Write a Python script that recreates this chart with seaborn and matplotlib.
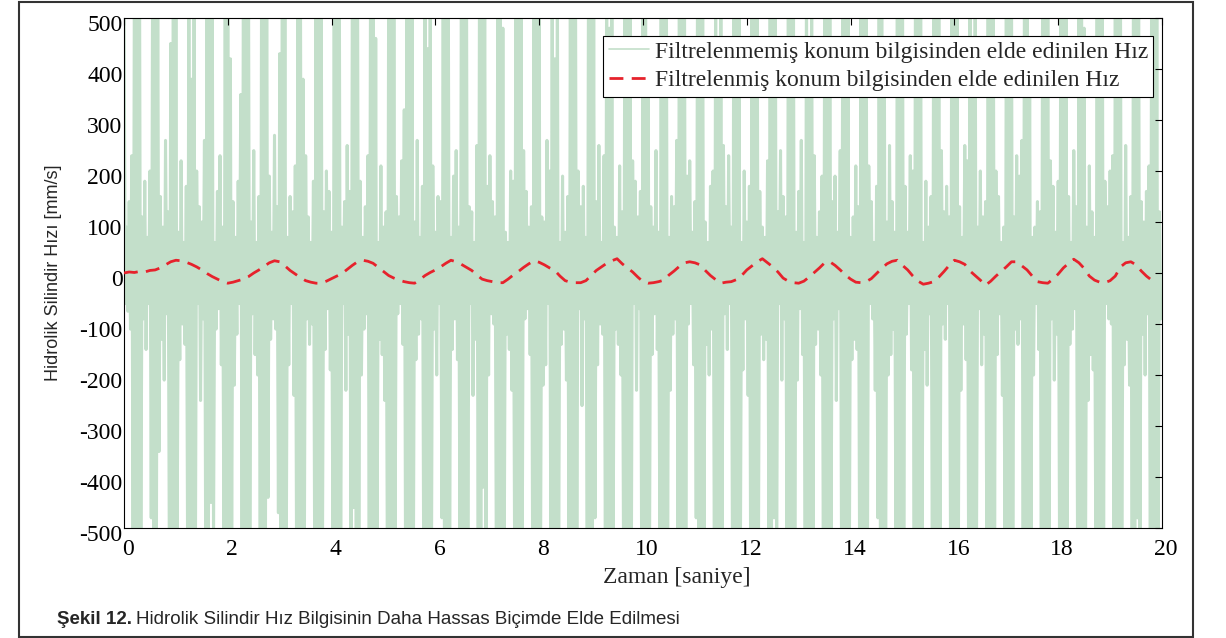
import numpy as np
import pandas as pd
import matplotlib
matplotlib.use("Agg")
import matplotlib.pyplot as plt
import seaborn as sns
from matplotlib.transforms import ScaledTranslation
from matplotlib.patches import Rectangle

# ---------------- data ----------------
raw_dt = 0.025  # sampling step of the unfiltered signal [s]
raw_speed = [
    520, -60, 90, -75, 140, -110, 230, -560, 600, -520, 620, -560, 580, -540,
    110, -90, 180, -150, 70, -60, 200, -480, 560, -600, 540, -520, 600, -350,
    150, -130, 90, -210, 260, -80, 120, -600, 450, -560, 620, -600, 520, -500,
    80, -170, 220, -100, 60, -140, 170, -540, 600, -520, 380, -580, 560, -600,
    200, -60, 130, -250, 100, -90, 260, -600, 560, -600, 600, -450, 600, -520,
    60, -110, 160, -70, 230, -180, 90, -520, 620, -560, 520, -600, 420, -540,
    140, -220, 70, -120, 180, -60, 350, -580, 600, -520, 600, -600, 560, -500,
    100, -80, 240, -160, 60, -200, 150, -600, 540, -580, 600, -560, 620, -440,
    190, -130, 80, -90, 270, -110, 130, -470, 430, -600, 560, -540, 600, -600,
    70, -180, 150, -60, 120, -240, 210, -560, 600, -520, 580, -600, 380, -560,
    230, -90, 110, -140, 60, -100, 180, -600, 620, -600, 560, -500, 600, -520,
    120, -150, 200, -70, 160, -190, 80, -540, 560, -580, 600, -560, 540, -600,
    90, -60, 140, -230, 250, -120, 160, -600, 600, -460, 520, -600, 600, -520,
    180, -200, 70, -110, 130, -80, 230, -520, 580, -600, 600, -540, 460, -580,
    60, -130, 210, -160, 90, -250, 120, -600, 600, -560, 540, -600, 600, -500,
    150, -80, 110, -60, 220, -140, 320, -580, 520, -600, 600, -520, 580, -600,
    100, -170, 260, -120, 70, -90, 170, -600, 600, -540, 440, -600, 600, -560,
    210, -110, 80, -200, 150, -60, 140, -480, 560, -600, 600, -580, 520, -520,
    70, -150, 190, -90, 240, -170, 90, -600, 620, -500, 600, -600, 560, -600,
    130, -60, 120, -240, 60, -130, 250, -560, 600, -600, 580, -420, 600, -540,
    170, -200, 230, -80, 140, -100, 110, -600, 500, -560, 600, -600, 480, -600,
    80, -120, 60, -150, 200, -230, 180, -520, 600, -600, 560, -560, 600, -500,
    240, -90, 160, -70, 90, -160, 130, -600, 580, -540, 600, -600, 540, -600,
    110, -220, 100, -180, 260, -60, 200, -580, 600, -600, 420, -520, 600, -560,
    60, -140, 190, -110, 80, -210, 150, -600, 560, -580, 600, -600, 580, -600,
    200, -70, 130, -260, 170, -90, 70, -500, 600, -520, 600, -560, 520, -480,
    140, -180, 250, -100, 60, -120, 230, -600, 620, -600, 480, -600, 600, -540,
    90, -110, 70, -140, 210, -200, 120, -560, 580, -540, 600, -500, 560, -600,
    220, -60, 180, -230, 110, -70, 160, -600, 600, -600, 560, -600, 420, -580,
    130, -160, 90, -80, 240, -150, 80, -540, 520, -560, 600, -600, 600, -520,
    70, -230, 150, -120, 130, -90, 260, -600, 600, -500, 580, -580, 540, -600,
    190, -100, 220, -60, 80, -180, 140, -480, 560, -600, 600, -540, 600, -560,
    100, -140, 60, -200, 170, -110, 200, -600, 600, -600, 460, -600, 580, -500,
    250, -80, 130, -150, 230, -60, 90, -580, 620, -520, 600, -560, 520, -600,
    60, -190, 200, -90, 100, -240, 170, -600, 540, -600, 600, -600, 600, -540,
    160, -120, 90, -170, 70, -130, 220, -520, 600, -560, 560, -480, 600, -600,
    120, -60, 240, -210, 150, -90, 110, -600, 580, -600, 600, -600, 500, -560,
    80, -210, 160, -70, 260, -160, 60, -560, 600, -540, 420, -600, 600, -600,
    230, -140, 70, -110, 120, -200, 190, -600, 520, -600, 600, -560, 580, -500,
    140, -90, 190, -250, 80, -70, 240, -540, 600, -580, 600, -600, 540, -600,
    70, -170, 110, -130, 210, -150, 130, -600, 600, -520, 560, -600, 600, -560,
    210, -60, 140, -90, 60, -230, 170, -480, 560, -600, 600, -540, 440, -600,
    100, -200, 250, -160, 140, -110, 80, -600, 620, -600, 520, -600, 600, -520,
    170, -120, 80, -60, 230, -190, 200, -560, 600, -500, 600, -580, 560, -600,
    60, -150, 180, -220, 90, -80, 150, -600, 540, -600, 580, -600, 600, -540,
    240, -100, 120, -130, 170, -60, 110, -520, 600, -560, 600, -520, 500, -600,
    130, -230, 70, -100, 250, -170, 220, -600, 580, -600, 460, -600, 600, -560,
    90, -70, 200, -180, 110, -120, 140, -580, 600, -540, 600, -600, 560, -500,
    200, -160, 150, -80, 60, -240, 90, -600, 520, -600, 600, -560, 600, -600,
    110, -110, 230, -140, 190, -90, 260, -540, 600, -580, 560, -600, 420, -560,
    70, -200, 90, -60, 140, -150, 120, -600, 600, -520, 600, -540, 600, -600,
    220, -90, 170, -210, 80, -120, 180, -500, 560, -600, 580, -600, 540, -520,
    150, -140, 60, -110, 240, -70, 130, -600, 620, -560, 600, -600, 480, -600,
    90, -250, 210, -160, 120, -190, 70, -560, 600, -600, 520, -580, 600, -540,
    180, -60, 130, -90, 200, -100, 230, -600, 540, -520, 600, -600, 560, -600,
    60, -180, 250, -130, 70, -220, 150, -520, 600, -600, 600, -480, 600, -560,
    140, -120, 100, -200, 160, -80, 210, -600, 580, -540, 560, -600, 520, -600,
    120, -90,
]

filt_dt = 0.1  # sampling step of the filtered signal [s]
filtered_speed = [
    0, 2, 1, 3, 2, 5, 6, 10, 16, 22,
    25, 24, 21, 17, 12, 6, -1, -7, -12, -17,
    -20, -18, -15, -12, -7, 0, 6, 13, 20, 24,
    22, 14, 5, -2, -9, -15, -18, -20, -20, -16,
    -11, -6, -1, 7, 15, 22, 25, 23, 19, 11,
    3, -5, -10, -14, -17, -19, -20, -13, -5, 1,
    6, 12, 19, 25, 22, 17, 11, 5, -4, -12,
    -15, -17, -19, -19, -12, -4, 3, 11, 18, 24,
    21, 16, 10, 5, -6, -15, -18, -19, -19, -15,
    -5, 5, 12, 19, 24, 28, 18, 10, 2, -8,
    -17, -20, -19, -17, -14, -4, 4, 13, 20, 22,
    20, 16, 5, -5, -13, -20, -18, -17, -13, -5,
    6, 14, 22, 28, 20, 12, 2, -10, -16, -19,
    -20, -16, -8, 1, 10, 20, 22, 15, 6, -4,
    -12, -18, -19, -17, -11, -1, 9, 18, 23, 25,
    15, 6, -6, -16, -22, -20, -17, -8, 3, 15,
    25, 22, 17, 4, -5, -14, -24, -16, -6, 3,
    12, 22, 22, 14, 6, -6, -17, -19, -20, -12,
    -2, 10, 19, 27, 20, 9, -6, -14, -18, -19,
    -15, -6, 12, 20, 22, 16, 4, -6, -14, -19,
]

x_ticks = [0, 2, 4, 6, 8, 10, 12, 14, 16, 18, 20]
y_ticks = [-500, -400, -300, -200, -100, 0, 100, 200, 300, 400, 500]
label_raw = "Filtrelenmemiş konum bilgisinden elde edinilen Hız"
label_filt = "Filtrelenmiş konum bilgisinden elde edinilen Hız"
x_label = "Zaman [saniye]"
y_label = "Hidrolik Silindir Hızı [mm/s]"
caption_bold = "Şekil 12."
caption_text = "Hidrolik Silindir Hız Bilgisinin Daha Hassas Biçimde Elde Edilmesi"

GREEN = "#c3dfca"
RED = "#e6222c"

# ---------------- plotting ----------------
sns.set_style("white")
plt.rcParams["font.family"] = ["Liberation Serif", "DejaVu Serif"]
plt.rcParams["axes.unicode_minus"] = False
SANS = ["Liberation Sans", "DejaVu Sans"]

W, H = 1226, 638
fig = plt.figure(figsize=(W / 100, H / 100), dpi=100)
ax = fig.add_axes([124 / W, (H - 528) / H, (1162 - 124) / W, (528 - 18) / H])

df_raw = pd.DataFrame({"t": np.arange(len(raw_speed)) * raw_dt, "v": raw_speed})
df_filt = pd.DataFrame({"t": np.arange(len(filtered_speed)) * filt_dt, "v": filtered_speed})

sns.lineplot(data=df_raw, x="t", y="v", ax=ax, color=GREEN, linewidth=2.2,
             estimator=None, sort=False, legend=False)
sns.lineplot(data=df_filt, x="t", y="v", ax=ax, color=RED, linewidth=2.0,
             estimator=None, sort=False, legend=False)
raw_line, filt_line = ax.lines[0], ax.lines[1]
filt_line.set_dashes((5, 3))
filt_line.set_zorder(3)

ax.set_xlim(0, 20)
ax.set_ylim(-500, 500)
ax.set_xticks(x_ticks)
ax.set_yticks(y_ticks)
ax.set_xticklabels([str(v) for v in x_ticks])
ax.set_yticklabels([str(v) for v in y_ticks])
ax.set_axisbelow(False)
ax.tick_params(direction="in", top=True, right=True, length=5, width=0.8,
               colors="black", labelsize=17)
ax.tick_params(axis="x", pad=8)
ax.tick_params(axis="y", pad=1)
for s in ax.spines.values():
    s.set_color("black")
    s.set_linewidth(0.8)
    s.set_visible(True)

# MATLAB-export style offset of tick labels
off_x = ScaledTranslation(4 / 100, 0, fig.dpi_scale_trans)
off_y = ScaledTranslation(0, -5 / 100, fig.dpi_scale_trans)
for lab in ax.get_xticklabels():
    lab.set_transform(lab.get_transform() + off_x)
for lab in ax.get_yticklabels():
    lab.set_transform(lab.get_transform() + off_y)

ax.set_xlabel(x_label, fontsize=17)
ax.xaxis.set_label_coords((677 - 124) / 1038, -(567 - 528) / 510)
ax.set_ylabel(y_label, fontsize=13, family=SANS)
ax.yaxis.set_label_coords((62 - 124) / 1038, 0.5)

leg_raw = plt.Line2D([], [], color=GREEN, linewidth=1.2)
leg = ax.legend([leg_raw, filt_line], [label_raw, label_filt],
                loc="upper right", bbox_to_anchor=((1153 - 124) / 1038, (528 - 36) / 510),
                fontsize=17, frameon=True, fancybox=False, framealpha=1,
                edgecolor="black", handlelength=1.7, handletextpad=0.25,
                labelspacing=0.3, borderpad=0.22, borderaxespad=0)
leg.get_frame().set_linewidth(0.8)
leg.set_zorder(5)

# caption
renderer = fig.canvas.get_renderer()
cap_y = (H - 619) / H
t1 = fig.text(57 / W, cap_y, caption_bold, fontsize=13.5, fontweight="bold",
              family=SANS, va="center", ha="left")
bb = t1.get_window_extent(renderer=renderer)
fig.text((bb.x1 + 4) / W, cap_y, caption_text, fontsize=13.5,
         family=SANS, va="center", ha="left")

# outer frame
fig.patches.append(Rectangle((19 / W, 1 / H), (1193 - 19) / W, (636 - 1) / H,
                             transform=fig.transFigure, fill=False,
                             edgecolor="#333333", linewidth=1.5))

fig.savefig("out.png", dpi=100)
